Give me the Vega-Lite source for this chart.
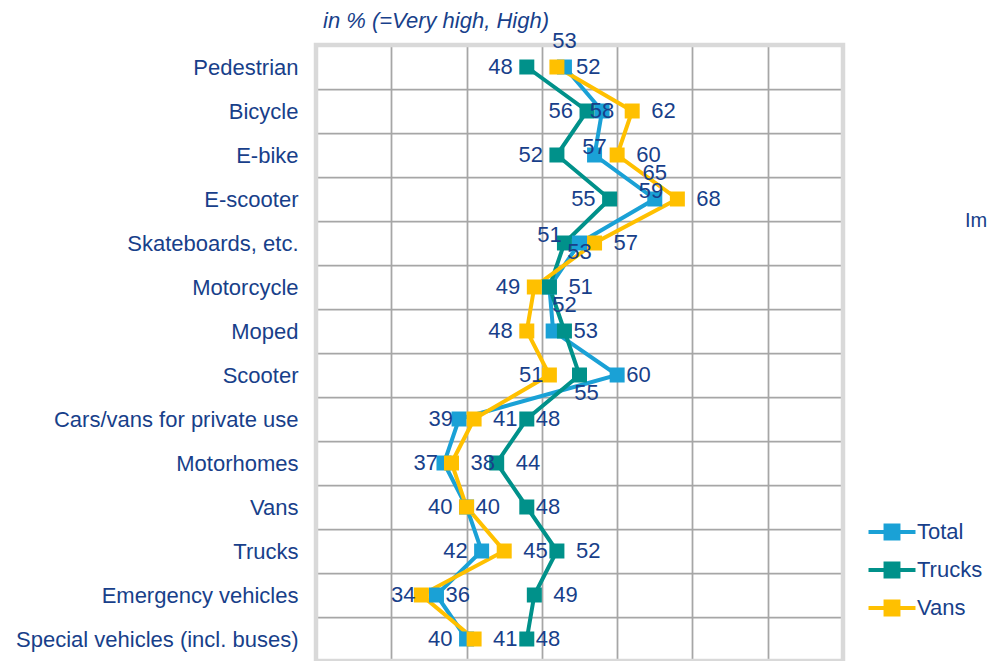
{
  "$schema": "https://vega.github.io/schema/vega-lite/v6.json",
  "width": 527,
  "height": 616,
  "autosize": {"type": "none"},
  "padding": {"left": 316, "top": 45, "right": 144, "bottom": 0},
  "background": "white",
  "title": {"text": "in % (=Very high, High)", "anchor": "start", "frame": "group", "fontStyle": "italic", "fontWeight": "normal", "fontSize": 22, "color": "#183F8A", "font": "Liberation Sans", "dx": 7, "offset": 0, "dy": 20, "baseline": "alphabetic"},
  "config": {
    "view": {"stroke": null},
    "font": "Liberation Sans",
    "axisY": {"domain": false, "ticks": false, "labelFontSize": 22, "labelColor": "#183F8A", "labelFont": "Liberation Sans", "labelPadding": 18, "labelLimit": 400, "grid": true, "gridColor": "#a6a6a6", "gridWidth": 1.75, "tickBand": "extent", "title": null},
    "axisX": {"domain": false, "ticks": false, "labels": false, "grid": true, "gridColor": "#a6a6a6", "gridWidth": 1.75, "tickCount": 7, "title": null},
    "text": {"font": "Liberation Sans", "fontSize": 22, "color": "#183F8A", "baseline": "middle"}
  },
  "datasets": {
    "points": [
      {"category": "Pedestrian", "series": "Total", "value": 53},
      {"category": "Pedestrian", "series": "Trucks", "value": 48},
      {"category": "Pedestrian", "series": "Vans", "value": 52},
      {"category": "Bicycle", "series": "Total", "value": 58},
      {"category": "Bicycle", "series": "Trucks", "value": 56},
      {"category": "Bicycle", "series": "Vans", "value": 62},
      {"category": "E-bike", "series": "Total", "value": 57},
      {"category": "E-bike", "series": "Trucks", "value": 52},
      {"category": "E-bike", "series": "Vans", "value": 60},
      {"category": "E-scooter", "series": "Total", "value": 65},
      {"category": "E-scooter", "series": "Trucks", "value": 59},
      {"category": "E-scooter", "series": "Vans", "value": 68},
      {"category": "Skateboards, etc.", "series": "Total", "value": 55},
      {"category": "Skateboards, etc.", "series": "Trucks", "value": 53},
      {"category": "Skateboards, etc.", "series": "Vans", "value": 57},
      {"category": "Motorcycle", "series": "Total", "value": 51},
      {"category": "Motorcycle", "series": "Trucks", "value": 51},
      {"category": "Motorcycle", "series": "Vans", "value": 49},
      {"category": "Moped", "series": "Total", "value": 51.5},
      {"category": "Moped", "series": "Trucks", "value": 53},
      {"category": "Moped", "series": "Vans", "value": 48},
      {"category": "Scooter", "series": "Total", "value": 60},
      {"category": "Scooter", "series": "Trucks", "value": 55},
      {"category": "Scooter", "series": "Vans", "value": 51},
      {"category": "Cars/vans for private use", "series": "Total", "value": 39},
      {"category": "Cars/vans for private use", "series": "Trucks", "value": 48},
      {"category": "Cars/vans for private use", "series": "Vans", "value": 41},
      {"category": "Motorhomes", "series": "Total", "value": 37},
      {"category": "Motorhomes", "series": "Trucks", "value": 44},
      {"category": "Motorhomes", "series": "Vans", "value": 38},
      {"category": "Vans", "series": "Total", "value": 40},
      {"category": "Vans", "series": "Trucks", "value": 48},
      {"category": "Vans", "series": "Vans", "value": 40},
      {"category": "Trucks", "series": "Total", "value": 42},
      {"category": "Trucks", "series": "Trucks", "value": 52},
      {"category": "Trucks", "series": "Vans", "value": 45},
      {"category": "Emergency vehicles", "series": "Total", "value": 36},
      {"category": "Emergency vehicles", "series": "Trucks", "value": 49},
      {"category": "Emergency vehicles", "series": "Vans", "value": 34},
      {"category": "Special vehicles (incl. buses)", "series": "Total", "value": 40},
      {"category": "Special vehicles (incl. buses)", "series": "Trucks", "value": 48},
      {"category": "Special vehicles (incl. buses)", "series": "Vans", "value": 41}
    ],
    "labels": [
      {"category": "Pedestrian", "value": 53, "label": "53", "place": "above"},
      {"category": "Pedestrian", "value": 48, "label": "48", "place": "left"},
      {"category": "Pedestrian", "value": 52, "label": "52", "place": "right"},
      {"category": "Bicycle", "value": 56, "label": "56", "place": "left"},
      {"category": "Bicycle", "value": 58, "label": "58", "place": "center"},
      {"category": "Bicycle", "value": 62, "label": "62", "place": "right"},
      {"category": "E-bike", "value": 52, "label": "52", "place": "left"},
      {"category": "E-bike", "value": 57, "label": "57", "place": "up"},
      {"category": "E-bike", "value": 60, "label": "60", "place": "right"},
      {"category": "E-scooter", "value": 59, "label": "55", "place": "left"},
      {"category": "E-scooter", "value": 64.5, "label": "59", "place": "up"},
      {"category": "E-scooter", "value": 65, "label": "65", "place": "above"},
      {"category": "E-scooter", "value": 68, "label": "68", "place": "right"},
      {"category": "Skateboards, etc.", "value": 51, "label": "51", "place": "up"},
      {"category": "Skateboards, etc.", "value": 55, "label": "53", "place": "down"},
      {"category": "Skateboards, etc.", "value": 57, "label": "57", "place": "right"},
      {"category": "Motorcycle", "value": 49, "label": "49", "place": "left"},
      {"category": "Motorcycle", "value": 51, "label": "51", "place": "right"},
      {"category": "Moped", "value": 53, "label": "52", "place": "above"},
      {"category": "Moped", "value": 48, "label": "48", "place": "left"},
      {"category": "Moped", "value": 53, "label": "53", "place": "rightnear"},
      {"category": "Scooter", "value": 51, "label": "51", "place": "leftnear"},
      {"category": "Scooter", "value": 60, "label": "60", "place": "rightnear"},
      {"category": "Scooter", "value": 55, "label": "55", "place": "below"},
      {"category": "Cars/vans for private use", "value": 39, "label": "39", "place": "leftnear"},
      {"category": "Cars/vans for private use", "value": 41, "label": "41", "place": "right"},
      {"category": "Cars/vans for private use", "value": 48, "label": "48", "place": "rightnear"},
      {"category": "Motorhomes", "value": 37, "label": "37", "place": "leftnear"},
      {"category": "Motorhomes", "value": 38, "label": "38", "place": "right"},
      {"category": "Motorhomes", "value": 44, "label": "44", "place": "right"},
      {"category": "Vans", "value": 40, "label": "40", "place": "left"},
      {"category": "Vans", "value": 40, "label": "40", "place": "rightnear"},
      {"category": "Vans", "value": 48, "label": "48", "place": "rightnear"},
      {"category": "Trucks", "value": 42, "label": "42", "place": "left"},
      {"category": "Trucks", "value": 45, "label": "45", "place": "right"},
      {"category": "Trucks", "value": 52, "label": "52", "place": "right"},
      {"category": "Emergency vehicles", "value": 34, "label": "34", "place": "leftnear"},
      {"category": "Emergency vehicles", "value": 36, "label": "36", "place": "rightnear"},
      {"category": "Emergency vehicles", "value": 49, "label": "49", "place": "right"},
      {"category": "Special vehicles (incl. buses)", "value": 40, "label": "40", "place": "left"},
      {"category": "Special vehicles (incl. buses)", "value": 41, "label": "41", "place": "right"},
      {"category": "Special vehicles (incl. buses)", "value": 48, "label": "48", "place": "rightnear"}
    ]
  },
  "layer": [
    {
      "data": {"name": "points"},
      "mark": {"type": "line", "strokeWidth": 4},
      "encoding": {
        "x": {"field": "value", "type": "quantitative", "scale": {"domain": [20, 90], "nice": false, "zero": false}},
        "y": {"field": "category", "type": "nominal", "sort": null, "scale": {"type": "band", "paddingInner": 0, "paddingOuter": 0}},
        "order": {"value": null},
        "color": {
          "field": "series", "type": "nominal",
          "scale": {"domain": ["Total", "Trucks", "Vans"], "range": ["#1AA1D6", "#00918A", "#FFC000"]},
          "legend": {
            "orient": "none", "legendX": 562, "legendY": 473, "title": null, "padding": 0,
            "symbolType": "M-2,0L2,0M-0.55,-0.55L0.55,-0.55L0.55,0.55L-0.55,0.55Z",
            "symbolSize": 552, "symbolStrokeWidth": 4,
            "labelFontSize": 22, "labelColor": "#183F8A", "labelFont": "Liberation Sans",
            "labelOffset": 11, "rowPadding": 8,
            "encode": {"symbols": {"update": {"fill": {"scale": "color", "field": "value"}, "stroke": {"scale": "color", "field": "value"}, "strokeWidth": {"value": 4}, "opacity": {"value": 1}}}}
          }
        }
      }
    },
    {
      "data": {"name": "points"},
      "mark": {"type": "point", "shape": "square", "filled": true, "size": 225, "opacity": 1},
      "encoding": {
        "x": {"field": "value", "type": "quantitative"},
        "y": {"field": "category", "type": "nominal", "sort": null},
        "color": {"field": "series", "type": "nominal"}
      }
    },
    {
      "data": {"values": [{}]},
      "mark": {"type": "rect", "filled": false, "fill": null, "stroke": "#d9d9d9", "strokeWidth": 4.5},
      "encoding": {"x": {"datum": 20, "type": "quantitative"}, "x2": {"datum": 90}}
    },
    {
      "data": {"values": [{"label": "Im"}]},
      "mark": {"type": "text", "align": "left", "dx": 122, "dy": -22, "fontSize": 20, "clip": false},
      "encoding": {"x": {"datum": 90, "type": "quantitative"}, "y": {"datum": "Skateboards, etc.", "type": "nominal"}, "text": {"field": "label"}}
    },
    {
      "data": {"name": "labels"},
      "transform": [{"filter": "datum.place == 'left'"}],
      "mark": {"type": "text", "align": "right", "dx": -14},
      "encoding": {"x": {"field": "value", "type": "quantitative"}, "y": {"field": "category", "type": "nominal", "sort": null}, "text": {"field": "label"}}
    },
    {
      "data": {"name": "labels"},
      "transform": [{"filter": "datum.place == 'leftnear'"}],
      "mark": {"type": "text", "align": "right", "dx": -6},
      "encoding": {"x": {"field": "value", "type": "quantitative"}, "y": {"field": "category", "type": "nominal", "sort": null}, "text": {"field": "label"}}
    },
    {
      "data": {"name": "labels"},
      "transform": [{"filter": "datum.place == 'right'"}],
      "mark": {"type": "text", "align": "left", "dx": 19},
      "encoding": {"x": {"field": "value", "type": "quantitative"}, "y": {"field": "category", "type": "nominal", "sort": null}, "text": {"field": "label"}}
    },
    {
      "data": {"name": "labels"},
      "transform": [{"filter": "datum.place == 'rightnear'"}],
      "mark": {"type": "text", "align": "left", "dx": 9},
      "encoding": {"x": {"field": "value", "type": "quantitative"}, "y": {"field": "category", "type": "nominal", "sort": null}, "text": {"field": "label"}}
    },
    {
      "data": {"name": "labels"},
      "transform": [{"filter": "datum.place == 'above'"}],
      "mark": {"type": "text", "align": "center", "dy": -26},
      "encoding": {"x": {"field": "value", "type": "quantitative"}, "y": {"field": "category", "type": "nominal", "sort": null}, "text": {"field": "label"}}
    },
    {
      "data": {"name": "labels"},
      "transform": [{"filter": "datum.place == 'up'"}],
      "mark": {"type": "text", "align": "center", "dy": -8},
      "encoding": {"x": {"field": "value", "type": "quantitative"}, "y": {"field": "category", "type": "nominal", "sort": null}, "text": {"field": "label"}}
    },
    {
      "data": {"name": "labels"},
      "transform": [{"filter": "datum.place == 'center'"}],
      "mark": {"type": "text", "align": "center"},
      "encoding": {"x": {"field": "value", "type": "quantitative"}, "y": {"field": "category", "type": "nominal", "sort": null}, "text": {"field": "label"}}
    },
    {
      "data": {"name": "labels"},
      "transform": [{"filter": "datum.place == 'down'"}],
      "mark": {"type": "text", "align": "center", "dy": 9},
      "encoding": {"x": {"field": "value", "type": "quantitative"}, "y": {"field": "category", "type": "nominal", "sort": null}, "text": {"field": "label"}}
    },
    {
      "data": {"name": "labels"},
      "transform": [{"filter": "datum.place == 'below'"}],
      "mark": {"type": "text", "align": "center", "dx": 7, "dy": 18},
      "encoding": {"x": {"field": "value", "type": "quantitative"}, "y": {"field": "category", "type": "nominal", "sort": null}, "text": {"field": "label"}}
    }
  ]
}
